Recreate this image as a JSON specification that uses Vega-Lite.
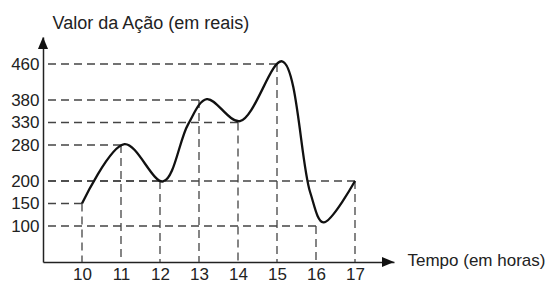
{
  "$schema": "https://vega.github.io/schema/vega-lite/v6.json",
  "autosize": {"type": "none"},
  "padding": {"left": 43, "top": 37, "right": 162, "bottom": 21},
  "width": 351,
  "height": 225,
  "background": "white",
  "config": {
    "view": {"stroke": null},
    "font": "Liberation Sans",
    "axis": {"grid": false, "domainColor": "#222", "domainWidth": 1.5, "labelColor": "#222", "titleColor": "#222", "labelFont": "Liberation Sans", "titleFont": "Liberation Sans", "titleFontWeight": "normal", "labelOverlap": false}
  },
  "datasets": {
    "pts": [
      {"hour": 10, "value": 150},
      {"hour": 11, "value": 280},
      {"hour": 12, "value": 200},
      {"hour": 13, "value": 380},
      {"hour": 14, "value": 330},
      {"hour": 15, "value": 460},
      {"hour": 16, "value": 100},
      {"hour": 17, "value": 200}
    ],
    "curve": [
      {"hour": 10, "value": 150},
      {"hour": 11.09, "value": 282},
      {"hour": 12.08, "value": 199},
      {"hour": 12.72, "value": 326},
      {"hour": 13.2, "value": 382},
      {"hour": 14.05, "value": 333},
      {"hour": 15.13, "value": 466},
      {"hour": 15.85, "value": 175},
      {"hour": 16.19, "value": 108},
      {"hour": 17, "value": 200}
    ],
    "arrows": [
      {"hour": 9, "value": 520, "dir": "up"},
      {"hour": 18, "value": 20, "dir": "right"}
    ]
  },
  "encoding": {
    "x": {"field": "hour", "type": "quantitative", "scale": {"domain": [9, 18], "nice": false, "zero": false},
      "axis": {"values": [10, 11, 12, 13, 14, 15, 16, 17], "ticks": false, "labelOverlap": false, "labelBound": false, "labelFlush": false, "labelFontSize": 17, "labelPadding": 4, "title": "Tempo (em horas)", "titleFontSize": 17, "titleAnchor": "start", "titleAlign": "left", "titleBaseline": "alphabetic", "titleX": 364, "titleY": 3}},
    "y": {"field": "value", "type": "quantitative", "scale": {"domain": [20, 520], "nice": false, "zero": false},
      "axis": {"values": [100, 150, 200, 280, 330, 380, 460], "ticks": false, "labelOverlap": false, "labelBound": false, "labelFlush": false, "labelFontSize": 17, "labelPadding": 4, "title": "Valor da Ação (em reais)", "titleFontSize": 18, "titleAngle": 0, "titleAnchor": "start", "titleAlign": "left", "titleBaseline": "alphabetic", "titleX": 9, "titleY": -9}}
  },
  "layer": [
    {
      "data": {"name": "pts"},
      "mark": {"type": "rule", "strokeDash": [8, 5], "color": "#444", "strokeWidth": 1.3},
      "encoding": {"x2": {"datum": 9}}
    },
    {
      "data": {"name": "pts"},
      "mark": {"type": "rule", "strokeDash": [8, 5], "color": "#444", "strokeWidth": 1.3},
      "encoding": {"y2": {"datum": 20}}
    },
    {
      "data": {"name": "curve"},
      "mark": {"type": "line", "interpolate": "catmull-rom", "color": "#111", "strokeWidth": 2.3},
      "encoding": {}
    },
    {
      "data": {"name": "arrows"},
      "transform": [{"filter": "datum.dir === 'up'"}],
      "mark": {"type": "point", "shape": "M0,0L0.42,1L-0.42,1Z", "size": 576, "filled": true, "color": "#111", "opacity": 1},
      "encoding": {}
    },
    {
      "data": {"name": "arrows"},
      "transform": [{"filter": "datum.dir === 'right'"}],
      "mark": {"type": "point", "shape": "M0,0L-1,-0.42L-1,0.42Z", "size": 576, "filled": true, "color": "#111", "opacity": 1},
      "encoding": {}
    }
  ]
}
